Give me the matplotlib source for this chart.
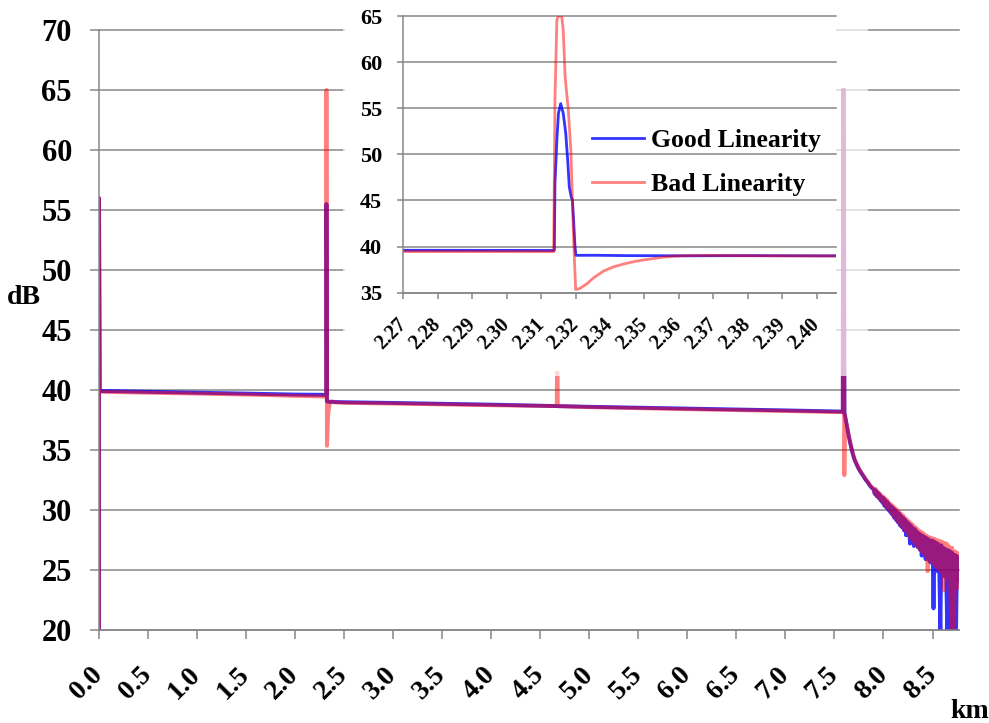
import numpy as np
import matplotlib
matplotlib.use('Agg')
import matplotlib.pyplot as plt
from matplotlib.patches import Rectangle

plt.rcParams['font.family'] = ['Liberation Serif', 'DejaVu Serif']
plt.rcParams['font.weight'] = 'bold'

# OTDR trace with the good-linearity receiver (km, dB)
good_km = [0.0, 0.0, 0.008, 0.5, 1.0, 1.5, 2.0, 2.27,
           2.3175, 2.3177, 2.3183, 2.3188, 2.3195, 2.3203, 2.3211, 2.3217,
           2.3222, 2.3228, 2.3232, 2.3235, 2.3240, 2.3243,
           2.33, 2.34, 2.36, 2.38, 2.40, 2.5, 3.0, 4.0, 5.0, 6.0, 7.0,
           7.585, 7.588, 7.596, 7.602, 7.62, 7.64, 7.66, 7.68, 7.70, 7.72,
           7.74, 7.76, 7.78, 7.80, 7.82, 7.84, 7.86, 7.88]
good_db = [20.0, 56.0, 39.92, 39.85, 39.78, 39.7, 39.62, 39.6,
           39.58, 46.85, 51.55, 54.45, 55.5, 54.45, 52.27, 49.38,
           46.49, 45.4, 45.04, 43.23, 39.98, 39.05,
           39.06, 39.02, 39.0, 39.02, 39.0, 38.98, 38.92, 38.78, 38.6, 38.45, 38.3,
           38.2, 65.0, 65.0, 38.1, 37.3, 36.4, 35.6, 34.9, 34.3, 33.9,
           33.55, 33.25, 33.0, 32.75, 32.5, 32.3, 32.05, 31.85]

# same link measured with the bad-linearity receiver
bad_km = [0.0, 0.0, 0.008, 0.5, 1.0, 1.5, 2.0, 2.27,
          2.3173, 2.3177, 2.3183, 2.3188, 2.3198, 2.3203, 2.3209, 2.3219,
          2.3227, 2.3232, 2.3235, 2.3242, 2.3255, 2.3277, 2.3298, 2.3330,
          2.3361, 2.3392, 2.3423, 2.3455, 2.3487, 2.3518, 2.3549, 2.3580,
          2.3654, 2.38, 2.40, 2.5, 3.0, 4.0, 4.668, 4.670, 4.677, 4.679,
          5.0, 6.0, 7.0, 7.585, 7.588, 7.596, 7.601, 7.606,
          7.62, 7.64, 7.66, 7.68, 7.70, 7.72, 7.74, 7.76, 7.78, 7.80,
          7.82, 7.84, 7.86, 7.88]
bad_db = [20.0, 56.0, 39.85, 39.77, 39.7, 39.62, 39.52, 39.47,
          39.45, 55.9, 64.57, 65.0, 65.0, 63.5, 58.4, 54.8,
          50.47, 45.04, 41.43, 35.35, 35.45, 35.95, 36.6, 37.35,
          37.8, 38.1, 38.35, 38.55, 38.7, 38.86, 38.95, 39.0,
          39.05, 39.0, 38.98, 38.93, 38.87, 38.73, 38.66, 41.45, 41.45, 38.65,
          38.57, 38.4, 38.25, 38.15, 65.0, 65.0, 32.9, 37.9,
          37.3, 36.45, 35.65, 34.95, 34.35, 33.95, 33.6, 33.3, 33.05, 32.8,
          32.55, 32.35, 32.1, 31.9]

# noisy far end of the fibre, one sample every 10 m
tail_km = np.round(np.arange(7.90, 8.775, 0.01), 2)
tail_good_db = [31.7, 31.35, 31.65, 31.15, 31.45, 31.0, 31.3, 30.8, 31.1, 30.6,
                31.0, 30.35, 30.8, 30.2, 30.65, 30.0, 30.45, 29.8, 30.3, 29.6,
                30.15, 29.35, 30.0, 29.15, 29.8, 28.95, 29.7, 28.7, 29.5, 28.55,
                29.35, 28.3, 29.2, 27.9, 29.0, 27.9, 28.85, 27.2, 28.7, 27.5,
                28.5, 27.0, 28.4, 27.1, 28.2, 26.9, 28.05, 26.7, 27.95, 26.2,
                27.85, 26.4, 27.75, 25.9, 27.65, 26.0, 27.55, 25.7, 27.45, 25.6,
                27.45, 21.8, 27.35, 25.1, 27.25, 24.9, 27.15, 24.7, 20.0, 27.05,
                24.8, 26.85, 24.5, 26.75, 24.6, 20.0, 26.65, 24.4, 26.55, 20.0,
                26.45, 24.2, 20.0, 26.25, 20.0, 26.15, 24.1, 25.6]
tail_bad_db = [31.8, 31.4, 31.75, 31.2, 31.55, 31.05, 31.4, 30.85, 31.2, 30.7,
               31.1, 30.45, 30.95, 30.3, 30.8, 30.1, 30.6, 29.9, 30.45, 29.7,
               30.3, 29.45, 30.15, 29.25, 30.0, 29.05, 29.85, 28.8, 29.7, 28.65,
               29.55, 28.4, 29.35, 28.25, 29.2, 28.05, 29.05, 27.75, 28.9, 27.55,
               28.75, 27.35, 28.6, 27.15, 28.45, 26.95, 28.3, 26.75, 28.2, 26.55,
               28.1, 26.45, 27.95, 26.25, 27.85, 24.9, 27.75, 25.85, 27.7, 25.75,
               27.65, 25.55, 27.6, 25.35, 27.5, 25.15, 27.45, 25.05, 27.4, 24.85,
               27.35, 24.65, 23.3, 27.25, 24.45, 27.15, 24.35, 26.95, 24.15, 20.0,
               26.85, 24.05, 20.0, 26.55, 23.85, 26.45, 23.5, 26.0]

main_ticks = np.arange(0.0, 8.51, 0.5)
zoom_tick_labels = ['2.27', '2.28', '2.29', '2.30', '2.31', '2.32', '2.34',
                    '2.35', '2.36', '2.37', '2.38', '2.39', '2.40']

good_x = np.concatenate([good_km, tail_km])
good_y = np.concatenate([good_db, tail_good_db])
bad_x = np.concatenate([bad_km, tail_km])
bad_y = np.concatenate([bad_db, tail_bad_db])

GRID = '#878787'
W, H = 989, 723

fig = plt.figure(figsize=(W / 100, H / 100), dpi=100)

# ---- full trace ----
ax = fig.add_axes([99 / W, 1 - 630 / H, (959 - 99) / W, (630 - 30) / H])
ax.plot(good_x, good_y, color='blue', alpha=0.8, lw=2.8, label='Good Linearity')
ax.plot(bad_x, bad_y, color='red', alpha=0.5, lw=2.8, label='Bad Linearity')
ax.set_xlim(0, 8.77)
ax.set_ylim(20, 70)
ax.set_yticks(np.arange(20, 71, 5))
ax.set_xticks(main_ticks, [f'{t:.1f}' for t in main_ticks], rotation=45,
              ha='right', va='center', rotation_mode='anchor')
ax.grid(axis='y', color=GRID, lw=1.1)
for gl in ax.get_ygridlines():
    gl.set_clip_on(False)
for s in ['top', 'right']:
    ax.spines[s].set_visible(False)
for s in ['left', 'bottom']:
    ax.spines[s].set_color(GRID)
    ax.spines[s].set_linewidth(1.1)
ax.tick_params(axis='y', length=6.5, width=1.1, color=GRID, labelsize=22, pad=13)
ax.tick_params(axis='x', length=6.5, width=1.1, color=GRID, labelsize=20, pad=23)

fig.text(7 / W, 1 - 297 / H, 'dB', fontsize=20, fontweight='bold', va='center', ha='left')
fig.text(950 / W, 1 - 718 / H, 'km', fontsize=20, fontweight='bold', va='baseline', ha='left')

# white backing behind the zoomed view
fig.add_artist(Rectangle((343 / W, 1 - 376 / H), (868 - 343) / W, 376 / H,
                         transform=fig.transFigure, facecolor='white', alpha=0.7,
                         edgecolor='none', zorder=1))
fig.add_artist(Rectangle((345 / W, 1 - 365 / H), (836 - 345) / W, 365 / H,
                         transform=fig.transFigure, facecolor='white',
                         edgecolor='none', zorder=1))

# ---- zoom on the connector at 2.32 km ----
axi = fig.add_axes([403.3 / W, 1 - 292.7 / H, (835.7 - 403.3) / W, (292.7 - 16) / H])
axi.set_zorder(3)
axi.plot(good_x, good_y, color='blue', alpha=0.8, lw=2.0, label='Good Linearity')
axi.plot(bad_x, bad_y, color='red', alpha=0.5, lw=2.0, label='Bad Linearity')
axi.set_xlim(2.27, 2.406)
axi.set_ylim(35, 65)
axi.set_yticks(np.arange(35, 66, 5))
axi.set_xticks(np.linspace(2.27, 2.40, len(zoom_tick_labels)), zoom_tick_labels,
               rotation=45, ha='right', va='center', rotation_mode='anchor')
axi.grid(axis='y', color=GRID, lw=1.1)
for gl in axi.get_ygridlines():
    gl.set_clip_on(False)
for s in ['top', 'right']:
    axi.spines[s].set_visible(False)
for s in ['left', 'bottom']:
    axi.spines[s].set_color(GRID)
    axi.spines[s].set_linewidth(1.1)
axi.tick_params(axis='y', length=4.3, width=1.1, color=GRID, labelsize=16, pad=11)
axi.tick_params(axis='x', length=4.0, width=1.1, color=GRID, labelsize=14.5, pad=17)

axi.legend(loc='upper left', bbox_to_anchor=(591.7 / W, 1 - 129 / H),
           bbox_transform=fig.transFigure, frameon=False, handlelength=2.05,
           handletextpad=0.25, borderpad=0, borderaxespad=0, labelspacing=0.8,
           prop={'family': 'Liberation Serif', 'weight': 'bold', 'size': 18.5})

fig.savefig('out.png', dpi=100)
